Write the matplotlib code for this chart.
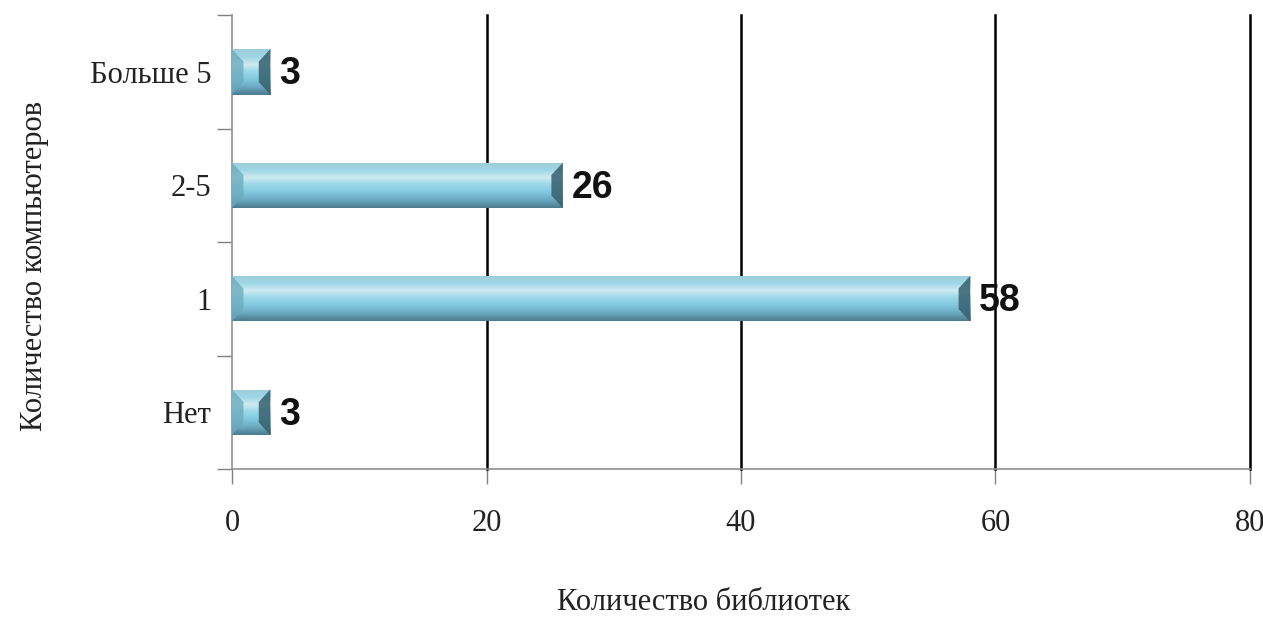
import matplotlib.pyplot as plt
import numpy as np
from matplotlib.patches import Polygon

categories = ['Нет', '1', '2-5', 'Больше 5']
values = [3, 58, 26, 3]
x_ticks = [0, 20, 40, 60, 80]

serif = 'Liberation Serif'

fig = plt.figure(figsize=(12.63, 6.28), dpi=100)
ax = fig.add_axes([0.1837, 0.2532, 0.8060, 0.7228])

ypos = np.arange(len(categories))
bar_h = 0.4

# vertical gradient used inside each bar (top -> bottom)
grad_cols = np.array([
    [0.62, 0.80, 0.86],
    [0.62, 0.84, 0.90],
    [0.80, 0.92, 0.95],
    [0.60, 0.84, 0.91],
    [0.50, 0.78, 0.87],
    [0.42, 0.66, 0.75],
    [0.30, 0.48, 0.56],
])
stops = np.linspace(0, 1, len(grad_cols))
tt = np.linspace(0, 1, 64)
grad = np.stack([np.interp(tt, stops, grad_cols[:, c]) for c in range(3)], axis=-1)
grad = grad[:, None, :]

bars = ax.barh(ypos, values, height=bar_h, color='#7fcde0', edgecolor='none', zorder=3)

for b, v in zip(bars, values):
    x0, y0 = b.get_x(), b.get_y()
    x1, y1 = x0 + b.get_width(), y0 + b.get_height()
    im = ax.imshow(grad, extent=[x0, x1, y0, y1], origin='upper', aspect='auto',
                   zorder=4, interpolation='bilinear')
    im.set_clip_path(b)
    bx = min(0.9, (x1 - x0) / 2)
    by = min(0.11, (y1 - y0) / 2)
    # bevels at the ends
    ax.add_patch(Polygon([(x0, y0), (x0 + bx, y0 + by), (x0 + bx, y1 - by), (x0, y1)],
                         closed=True, facecolor='#6aa9bb', edgecolor='none', alpha=0.75, zorder=5))
    ax.add_patch(Polygon([(x1, y0), (x1 - bx, y0 + by), (x1 - bx, y1 - by), (x1, y1)],
                         closed=True, facecolor='#35606e', edgecolor='none', alpha=0.85, zorder=5))
    ax.text(x1 + 0.7, (y0 + y1) / 2 - 0.02, str(v), ha='left', va='center',
            fontsize=27, fontweight='bold', family='Liberation Sans', color='#111111', zorder=6)

ax.set_xlim(0, 80)
ax.set_ylim(-0.5, len(categories) - 0.5)
ax.set_xticks(x_ticks)
ax.set_xticklabels([str(t) for t in x_ticks], family=serif, fontsize=22, color='#222222')
ax.tick_params(axis='x', direction='out', length=11, width=1, color='#808080', pad=18)

ax.set_yticks(np.arange(-0.5, len(categories), 1.0))
ax.set_yticklabels([])
ax.tick_params(axis='y', which='major', direction='out', length=11, width=1, color='#808080')
ax.set_yticks(ypos, minor=True)
ax.set_yticklabels(categories, minor=True, family=serif, fontsize=22, color='#222222')
ax.tick_params(axis='y', which='minor', length=0, pad=15)

for t in x_ticks[1:]:
    ax.axvline(t, color='black', linewidth=1.8, zorder=2, clip_on=False)

for s in ['top', 'right']:
    ax.spines[s].set_visible(False)
for s in ['left', 'bottom']:
    ax.spines[s].set_color('#909090')
    ax.spines[s].set_linewidth(1.2)

fig.text(0.557, 0.017, 'Количество библиотек', ha='center', va='bottom',
         family=serif, fontsize=22, color='#222222')
fig.text(0.027, 0.576, 'Количество компьютеров', ha='center', va='center',
         rotation=90, family=serif, fontsize=22, color='#222222')

fig.savefig('out.png', dpi=100)
